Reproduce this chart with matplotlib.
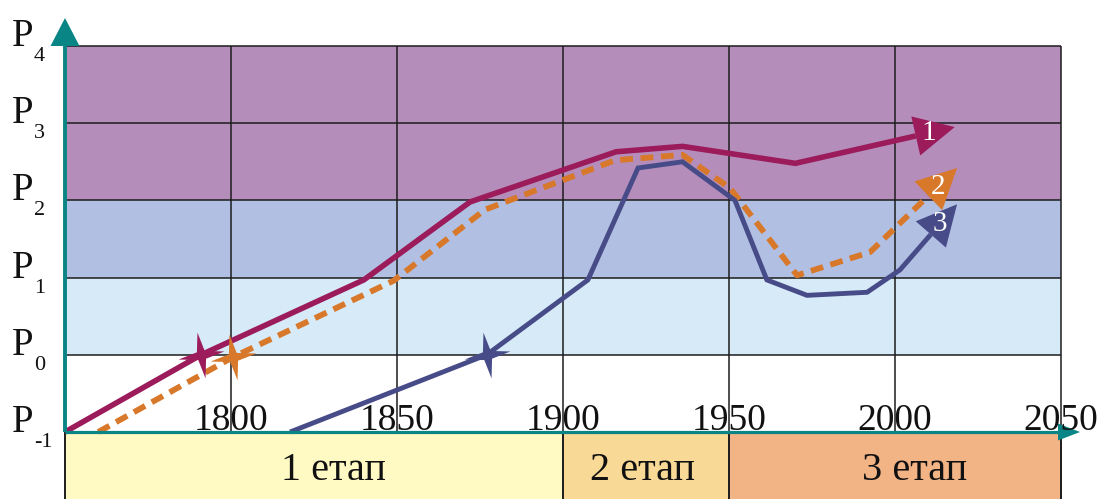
import numpy as np
import matplotlib
matplotlib.use("Agg")
import matplotlib.pyplot as plt
from matplotlib.path import Path
import matplotlib.transforms as mtransforms

# ---------------- data ----------------
years_1 = [1750, 1791, 1840, 1872, 1916, 1936, 1970, 2018]
level_1 = [-1.0, 0.0, 0.97, 1.98, 2.63, 2.70, 2.48, 2.95]

years_2 = [1760, 1800.6, 1849, 1876.5, 1915.7, 1936, 1950.3, 1970.5, 1992.5, 2018.7]
level_2 = [-1.0, -0.03, 0.96, 1.88, 2.52, 2.59, 2.16, 1.03, 1.33, 2.42]

years_3 = [1817.8, 1877, 1907.5, 1922.6, 1936, 1951.8, 1961.4, 1973.5, 1991.6, 2001.5, 2018.7]
level_3 = [-1.0, 0.0, 0.97, 2.42, 2.50, 2.0, 0.97, 0.77, 0.81, 1.10, 1.95]

series_names = ["1", "2", "3"]

level_values = [-1, 0, 1, 2, 3, 4]
level_subs = ["-1", "0", "1", "2", "3", "4"]

tick_years = [1800, 1850, 1900, 1950, 2000, 2050]
tick_labels = ["1800", "1850", "1900", "1950", "2000", "2050"]

band_low = [-1, 0, 1, 2]
band_high = [0, 1, 2, 4]
band_colors = ["#FFFFFF", "#D6EAF8", "#B1C0E2", "#B58DBB"]

stage_names = ["1 етап", "2 етап", "3 етап"]
stage_start = [1750, 1900, 1950]
stage_end = [1900, 1950, 2050]
stage_colors = ["#FFFAC4", "#F9D996", "#F2B385"]
stage_label_year = [1831, 1924, 2006]

# ---------------- style ----------------
SERIF = "Liberation Serif"
TEAL = "#0A8585"
GRID = "#1c1c1c"
TXT = "#111111"
C1, C2, C3 = "#9B1B5B", "#D8782A", "#474C88"

W_PX, H_PX = 1104, 499
fig = plt.figure(figsize=(W_PX / 100, H_PX / 100), dpi=100)
ax = fig.add_axes([0, 0, 1, 1])
ax.set_axis_off()

px_per_year = 3.32
px_per_level = 77.2
x0 = 1800 - 231 / px_per_year
y0 = -1 - (H_PX - 432) / px_per_level
ax.set_xlim(x0, x0 + W_PX / px_per_year)
ax.set_ylim(y0, y0 + H_PX / px_per_level)

x_min, x_max = 1750, 2050

# background bands
for lo, hi, c in zip(band_low, band_high, band_colors):
    ax.fill_between([x_min, x_max], lo, hi, color=c, lw=0, zorder=0)

# grid
ax.vlines(tick_years, -1, 4, color=GRID, lw=1.1, zorder=1)
ax.hlines(level_values[1:], x_min, x_max, color=GRID, lw=1.1, zorder=1)

# stage bar
bottom = ax.get_ylim()[0]
for s, e, c, name, lx in zip(stage_start, stage_end, stage_colors, stage_names, stage_label_year):
    ax.fill_between([s, e], bottom, -1, color=c, lw=0, zorder=0)
    ax.annotate(name, xy=(lx, -1), xytext=(0, -48), textcoords="offset pixels",
                ha="center", va="baseline", fontsize=29, family=SERIF,
                color=TXT, zorder=6)
ax.vlines(stage_start + [stage_end[-1]], bottom, -1, color=GRID, lw=1.4, zorder=1)

T = ax.transData
Tinv = T.inverted()


def arrow_head(xa, ya, xb, yb, color, L, W, z=5):
    p0 = T.transform((xa, ya))
    p1 = T.transform((xb, yb))
    d = p1 - p0
    u = d / np.hypot(*d)
    n = np.array([-u[1], u[0]])
    base = p1 - u * L
    tri = np.array([p1, base + n * W, base - n * W])
    tri_d = Tinv.transform(tri)
    ax.fill(tri_d[:, 0], tri_d[:, 1], color=color, lw=0, zorder=z)
    return Tinv.transform(base), Tinv.transform(tri.mean(axis=0))


# axes (teal) with arrows
y_top = 4 + 28 / px_per_level
x_right = 1750 + (1080 - 65) / px_per_year
b, _ = arrow_head(x_min, -1, x_min, y_top, TEAL, 28, 14.5, z=4)
ax.plot([x_min, x_min], [-1, b[1]], color=TEAL, lw=2.8, zorder=4, solid_capstyle="butt")
b, _ = arrow_head(x_min, -1, x_right, -1, TEAL, 22, 8.5, z=4)
ax.plot([x_min, b[0]], [-1, -1], color=TEAL, lw=2.3, zorder=4, solid_capstyle="butt")

# star marker (thin 4-point star)
angles = np.deg2rad(np.arange(8) * 45 + 100)
radii = np.array([1, 0.24] * 4)
star_verts = np.column_stack([radii * np.cos(angles), radii * np.sin(angles)])
star_verts = np.vstack([star_verts, star_verts[:1]])
star = Path(star_verts, [Path.MOVETO] + [Path.LINETO] * 7 + [Path.CLOSEPOLY])

series = [
    (years_1, level_1, C1, "-", 4.0),
    (years_2, level_2, C2, "--", 4.2),
    (years_3, level_3, C3, "-", 3.5),
]
for (xs, ys, c, ls, lw), name in zip(series, series_names):
    base, cen = arrow_head(xs[-2], ys[-2], xs[-1], ys[-1], c, 40, 20, z=5)
    px = list(xs[:-1]) + [base[0]]
    py = list(ys[:-1]) + [base[1]]
    kw = dict(color=c, lw=lw, zorder=3, solid_capstyle="butt", solid_joinstyle="miter")
    if ls == "--":
        kw.update(dashes=(2.2, 1.3), dash_capstyle="butt")
    ax.plot(px, py, **kw)
    ax.plot([xs[1]], [ys[1]], marker=star, markersize=33, color=c, mew=0, zorder=4)
    ax.text(cen[0], cen[1], name, ha="center", va="center", color="white",
            fontsize=21, family=SERIF, zorder=6)

# y labels P_n
blend = mtransforms.blended_transform_factory(ax.transAxes, ax.transData)
for v, sub in zip(level_values, level_subs):
    ax.annotate("P", xy=(12 / W_PX, v), xycoords=blend, xytext=(0, 0),
                textcoords="offset pixels", ha="left", va="baseline",
                fontsize=28, family=SERIF, color=TXT)
    ax.annotate(sub, xy=(34 / W_PX, v), xycoords=blend, xytext=(0, -15),
                textcoords="offset pixels", ha="left", va="baseline",
                fontsize=16, family=SERIF, color=TXT)

# x tick labels
for yr, lab in zip(tick_years, tick_labels):
    ax.annotate(lab, xy=(yr, -1), xytext=(0, 2), textcoords="offset pixels",
                ha="center", va="baseline", fontsize=27, family=SERIF,
                color=TXT, zorder=6)

fig.savefig("out.png", dpi=100)
